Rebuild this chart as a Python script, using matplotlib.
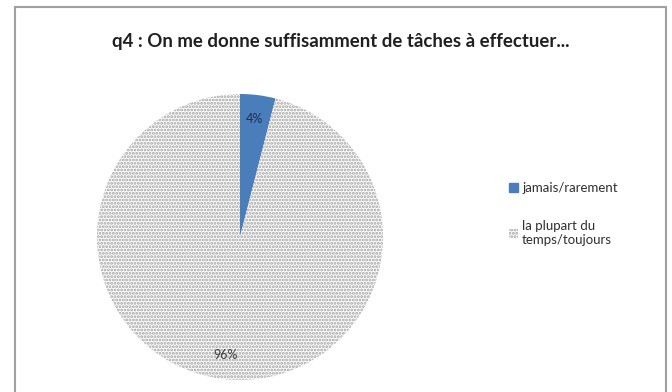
import matplotlib
matplotlib.use("Agg")
import matplotlib.pyplot as plt
from matplotlib.patches import Rectangle, Patch

plt.rcParams['font.family'] = ['Lato', 'DejaVu Sans']
plt.rcParams['hatch.linewidth'] = 1.4

title = "q4 : On me donne suffisamment de tâches à effectuer..."
categories = ["jamais/rarement", "la plupart du\ntemps/toujours"]
values = [4, 96]

fig = plt.figure(figsize=(6.72, 3.92), dpi=100)
fig.patch.set_facecolor('white')
fig.patches.append(Rectangle((15/672, -10/392), (666-15)/672, (392+10-7)/392,
                             transform=fig.transFigure, fill=False,
                             edgecolor='#a0a0a0', linewidth=1.5))

ax = fig.add_axes([97/672, 12/392, 286/672, 286/392])
wedges, texts, autotexts = ax.pie(values, startangle=90, counterclock=False,
                                  autopct='%1.0f%%', pctdistance=0.83,
                                  wedgeprops=dict(linewidth=0))
ax.set_xlim(-1, 1)
ax.set_ylim(-1, 1)
wedges[0].set_facecolor('#4a7ebb')
wedges[0].set_edgecolor('#4a7ebb')
wedges[1].set_facecolor('white')
wedges[1].set_edgecolor('#a0a0a0')
wedges[1].set_hatch('.....')
for t in autotexts:
    t.set_fontsize(9)
    t.set_color('#404040')
autotexts[0].set_color('#1f3050')
ax.set_aspect('equal')

fig.text(340.5/672, 1 - 42/392, title, ha='center', va='center',
         fontsize=13.4, fontweight='bold', color='#202020')

h0 = Patch(facecolor='#4a7ebb', edgecolor='#4a7ebb')
h1 = Patch(facecolor='white', edgecolor='#a0a0a0', hatch='.....', linewidth=0)
fig.legend([h0, h1], categories, loc='upper left',
           bbox_to_anchor=(497/672, 1 - 170/392), frameon=False,
           fontsize=9.5, handlelength=0.7, handleheight=0.7,
           handletextpad=0.3, labelspacing=2.0, labelcolor='#303030')

fig.savefig("out.png", dpi=100)
